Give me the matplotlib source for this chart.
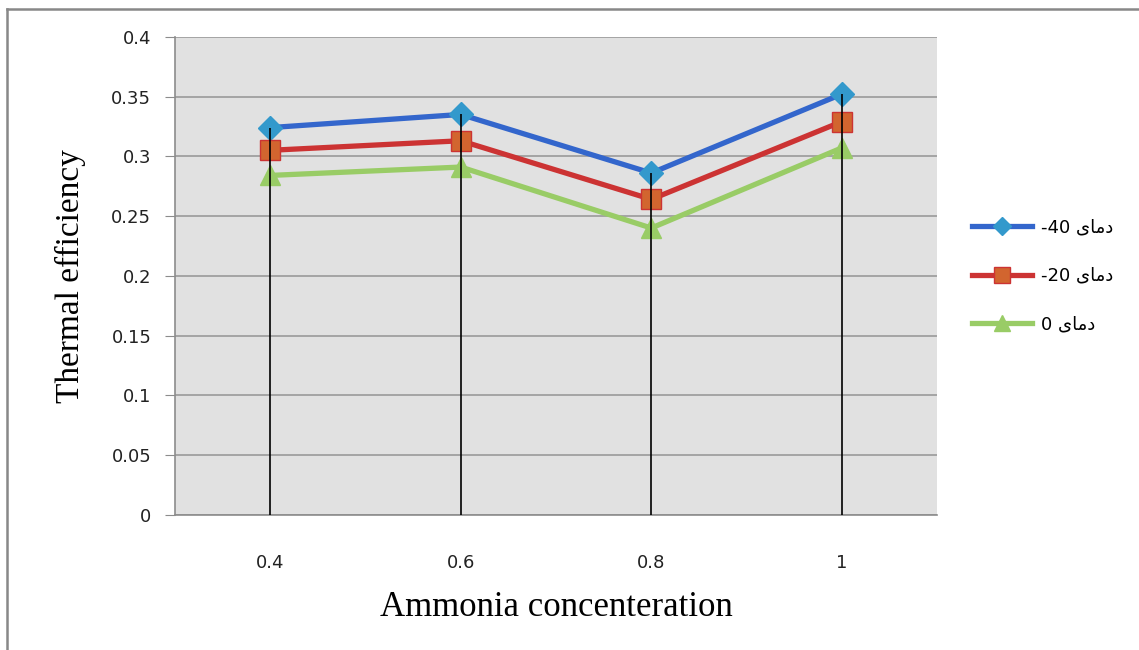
import matplotlib.pyplot as plt
from matplotlib.lines import Line2D

concentration = ["0.4", "0.6", "0.8", "1"]
eff_m40 = [0.324, 0.335, 0.286, 0.352]
eff_m20 = [0.305, 0.313, 0.264, 0.329]
eff_0 = [0.284, 0.291, 0.240, 0.307]

# "دمای" in shaped presentation forms, visual order (matplotlib has no bidi/shaping)
word = "\uFBFC\uFE8E\uFEE3\uFEA9"
labels = ["-40 " + word, "-20 " + word, "0 " + word]

fig = plt.figure(figsize=(11.39, 6.5), dpi=100)
ax = fig.add_axes([0.1536, 0.2077, 0.6691, 0.7358])

x = list(range(len(concentration)))
ax.set_facecolor("#e1e1e1")
ax.set_xlim(-0.5, len(concentration) - 0.5)
ax.set_ylim(0, 0.4)
ax.set_yticks([i * 0.05 for i in range(9)])
ax.set_yticklabels(["0", "0.05", "0.1", "0.15", "0.2", "0.25", "0.3", "0.35", "0.4"])
ax.set_xticks(x)
ax.set_xticklabels(concentration)
ax.yaxis.grid(True, color="#9a9a9a", linewidth=1.2)
ax.set_axisbelow(True)
for s in ["top", "right"]:
    ax.spines[s].set_visible(False)
for s in ["left", "bottom"]:
    ax.spines[s].set_color("#8c8c8c")
    ax.spines[s].set_linewidth(1.2)
ax.tick_params(axis="y", length=7, color="#8c8c8c", labelsize=13, pad=10)
ax.tick_params(axis="x", length=0, labelsize=13, pad=28)
for t in ax.get_xticklabels() + ax.get_yticklabels():
    t.set_color("#222222")

ax.plot(x, eff_m40, color="#3366cc", lw=3.8, marker="D", ms=12,
        mfc="#3399cc", mec="#3399cc", label=labels[0], zorder=3)
ax.plot(x, eff_m20, color="#cc3333", lw=3.8, marker="s", ms=14,
        mfc="#d2652f", mec="#cc3333", label=labels[1], zorder=3)
ax.plot(x, eff_0, color="#99cc66", lw=3.8, marker="^", ms=14,
        mfc="#99cc66", mec="#99cc66", label=labels[2], zorder=3)

# drop lines
ax.vlines(x, 0, eff_m40, color="black", lw=1.2, zorder=4)

ax.set_xlabel("Ammonia concenteration", family="Liberation Serif", fontsize=25, labelpad=14)
ax.set_ylabel("Thermal efficiency", family="Liberation Serif", fontsize=24, labelpad=18)

leg = ax.legend(loc="center left", bbox_to_anchor=(1.025, 0.50), frameon=False,
                fontsize=13, labelspacing=1.7, handlelength=3.3, handletextpad=0.5,
                markerscale=0.8)

# outer frame of the figure
fig.add_artist(Line2D([7 / 1139, 7 / 1139], [0, 1 - 9 / 650], color="#888888", lw=1.8))
fig.add_artist(Line2D([7 / 1139, 1], [1 - 9 / 650, 1 - 9 / 650], color="#888888", lw=1.8))

fig.savefig("out.png", dpi=100)
